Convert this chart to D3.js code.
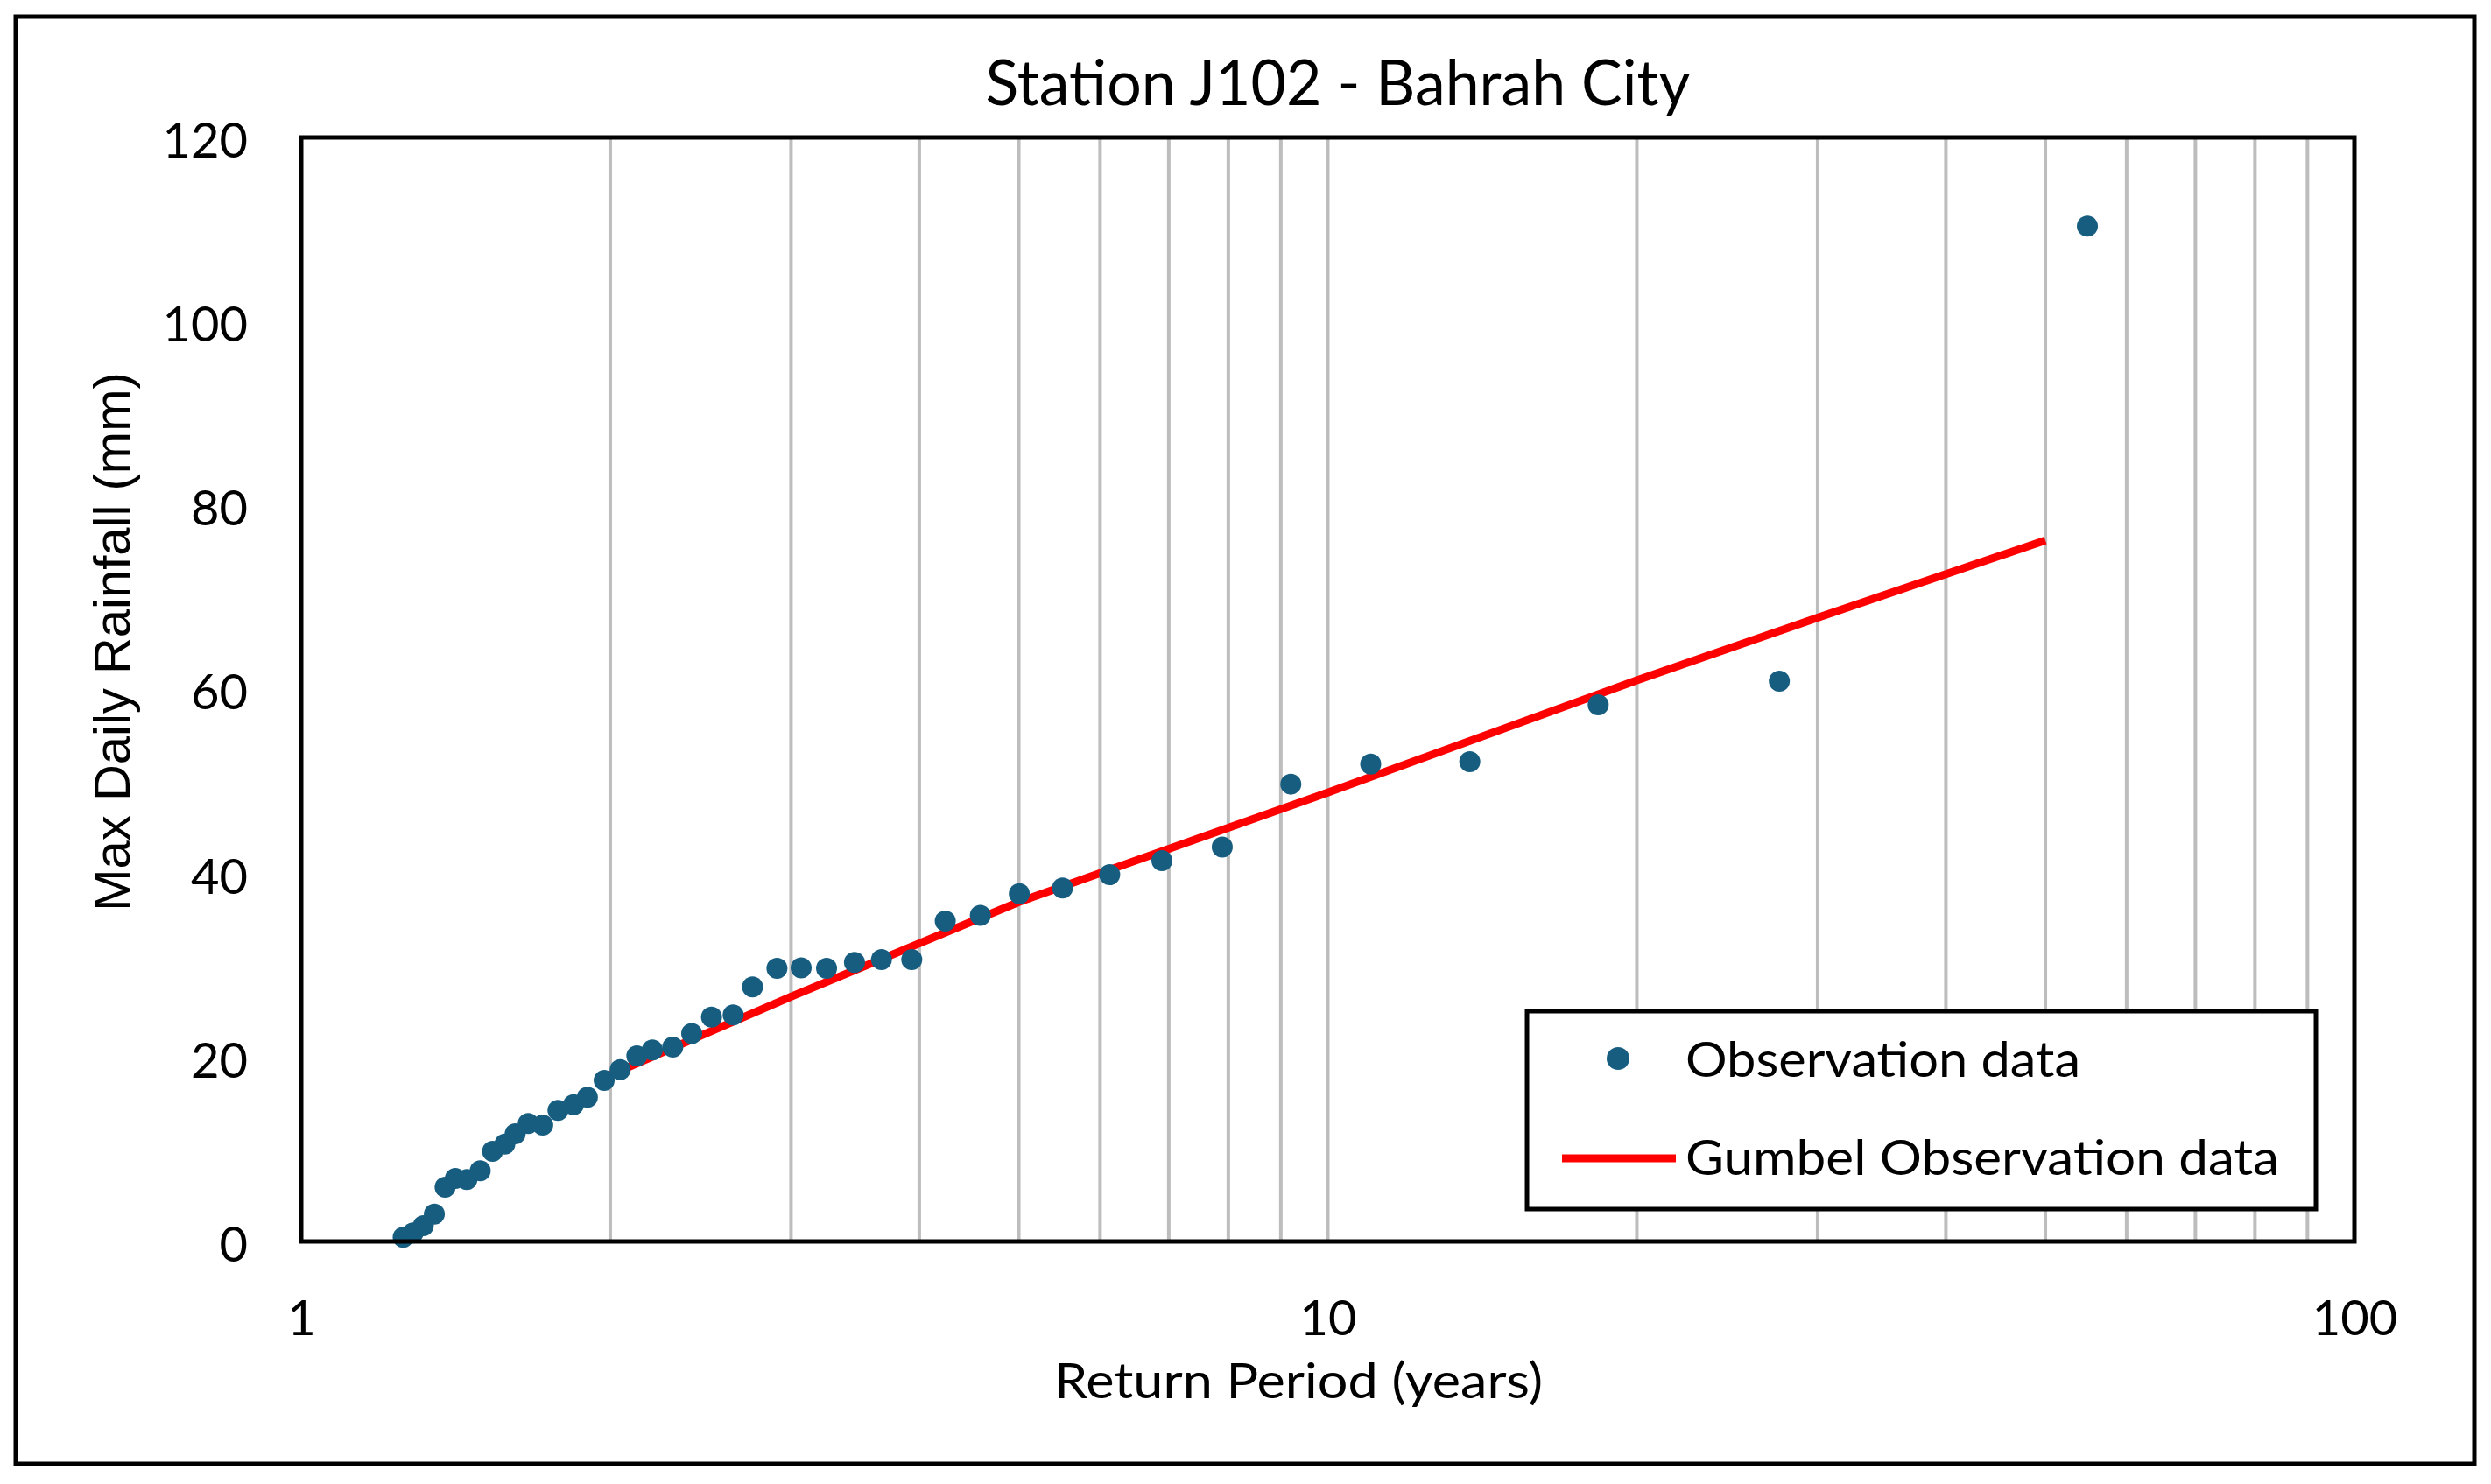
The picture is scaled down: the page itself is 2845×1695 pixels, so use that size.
<!DOCTYPE html>
<html>
<head>
<meta charset="utf-8">
<script src="https://cdn.jsdelivr.net/npm/d3@7"></script>
<style>
    body { margin: 0; background: #ffffff; }
    svg { display: block; }
</style>
</head>
<body>
<script>
var obsPeriod = [1.257, 1.285, 1.315, 1.348, 1.381, 1.413, 1.450, 1.494, 1.536, 1.579,
    1.616, 1.664, 1.719, 1.779, 1.842, 1.900, 1.973, 2.045, 2.123, 2.198,
    2.301, 2.401, 2.510, 2.635, 2.752, 2.907, 3.069, 3.249, 3.459, 3.675,
    3.933, 4.240, 4.587, 5.006, 5.516, 6.131, 6.893, 7.892, 9.204, 11.01,
    13.75, 18.34, 27.53, 54.94];
var obsRain = [0.45, 0.92, 1.71, 2.98, 5.90, 6.85, 6.73, 7.68, 9.80, 10.59,
    11.71, 12.82, 12.66, 14.25, 14.87, 15.67, 17.51, 18.68, 20.18, 20.81,
    21.13, 22.60, 24.39, 24.63, 27.66, 29.69, 29.74, 29.69, 30.33, 30.64,
    30.64, 34.83, 35.45, 37.80, 38.42, 39.87, 41.40, 42.87, 49.71, 51.89,
    52.15, 58.34, 60.91, 110.36];

// gumbel fit line
var gumbelPeriod = [2, 3, 5, 10, 20, 30, 50];
var gumbelRain = [18.1, 26.6, 36.9, 48.8, 61.0, 67.8, 76.2];

var yTicks = [0, 20, 40, 60, 80, 100, 120];
var xTicks = [1, 10, 100];

var width = 2845,
    height = 1695;
var plot = { left: 344, top: 157, right: 2689, bottom: 1418 };
var calibri = "Lato, 'Open Sans', sans-serif";

var svg = d3.select("body")
    .append("svg")
    .attr("width", width)
    .attr("height", height);

svg.append("rect")
    .attr("x", 18).attr("y", 19)
    .attr("width", 2808).attr("height", 1653)
    .style("fill", "#ffffff")
    .style("stroke", "#000000")
    .style("stroke-width", 5);

var x = d3.scaleLog().domain([1, 100]).range([plot.left, plot.right]);
var y = d3.scaleLinear().domain([0, 120]).range([plot.bottom, plot.top]);

// vertical gridlines on every log step
svg.append("g")
    .selectAll("line")
    .data(x.ticks().filter(function (d) { return d > 1 && d < 100; }))
    .enter()
    .append("line")
    .attr("x1", function (d) { return x(d); })
    .attr("x2", function (d) { return x(d); })
    .attr("y1", plot.top)
    .attr("y2", plot.bottom)
    .style("stroke", "#bdbdbd")
    .style("stroke-width", 4);

var lineData = gumbelPeriod.map(function (d, i) { return [d, gumbelRain[i]]; });
svg.append("path")
    .datum(lineData)
    .attr("d", d3.line()
        .x(function (d) { return x(d[0]); })
        .y(function (d) { return y(d[1]); }))
    .style("fill", "none")
    .style("stroke", "#ff0000")
    .style("stroke-width", 9);

svg.append("g")
    .selectAll("circle")
    .data(obsPeriod)
    .enter()
    .append("circle")
    .attr("cx", function (d) { return x(d); })
    .attr("cy", function (d, i) { return y(obsRain[i]); })
    .attr("r", 12)
    .style("fill", "#175d80");

svg.append("rect")
    .attr("x", plot.left).attr("y", plot.top)
    .attr("width", plot.right - plot.left)
    .attr("height", plot.bottom - plot.top)
    .style("fill", "none")
    .style("stroke", "#000000")
    .style("stroke-width", 5);

// axes
var yAxis = svg.append("g")
    .attr("transform", "translate(" + plot.left + ",0)")
    .call(d3.axisLeft(y).tickValues(yTicks).tickSize(0).tickPadding(61));
yAxis.select(".domain").remove();
yAxis.selectAll("text")
    .attr("dy", "0.4em")
    .style("font-family", calibri)
    .style("font-size", "56px")
    .style("fill", "#000000");

var xAxis = svg.append("g")
    .attr("transform", "translate(0," + plot.bottom + ")")
    .call(d3.axisBottom(x).tickValues(xTicks).tickFormat(d3.format("d")).tickSize(0));
xAxis.select(".domain").remove();
xAxis.selectAll("text")
    .attr("y", 107)
    .attr("dy", null)
    .style("font-family", calibri)
    .style("font-size", "56px")
    .style("fill", "#000000");

svg.append("text")
    .attr("x", 1528).attr("y", 120)
    .attr("text-anchor", "middle")
    .attr("textLength", 805)
    .attr("lengthAdjust", "spacingAndGlyphs")
    .style("font-family", calibri)
    .style("font-size", "72px")
    .text("Station J102 - Bahrah City");

svg.append("text")
    .attr("x", 1483).attr("y", 1597)
    .attr("text-anchor", "middle")
    .attr("textLength", 558)
    .attr("lengthAdjust", "spacingAndGlyphs")
    .style("font-family", calibri)
    .style("font-size", "56px")
    .text("Return Period (years)");

svg.append("text")
    .attr("transform", "translate(148,733) rotate(-90)")
    .attr("text-anchor", "middle")
    .style("font-family", "'Liberation Sans', Arial, sans-serif")
    .style("font-size", "58px")
    .text("Max Daily Rainfall (mm)");

// legend
var legend = svg.append("g");
legend.append("rect")
    .attr("x", 1744).attr("y", 1155)
    .attr("width", 901).attr("height", 226)
    .style("fill", "#ffffff")
    .style("stroke", "#000000")
    .style("stroke-width", 5);
legend.append("circle")
    .attr("cx", 1848).attr("cy", 1209)
    .attr("r", 13)
    .style("fill", "#175d80");
legend.append("text")
    .attr("x", 1925).attr("y", 1230)
    .attr("textLength", 451)
    .attr("lengthAdjust", "spacingAndGlyphs")
    .style("font-family", calibri)
    .style("font-size", "57px")
    .text("Observation data");
legend.append("line")
    .attr("x1", 1784).attr("x2", 1914)
    .attr("y1", 1323).attr("y2", 1323)
    .style("stroke", "#ff0000")
    .style("stroke-width", 9);
legend.append("text")
    .attr("x", 1925).attr("y", 1342)
    .attr("textLength", 678)
    .attr("lengthAdjust", "spacingAndGlyphs")
    .style("font-family", calibri)
    .style("font-size", "57px")
    .text("Gumbel Observation data");
</script>
</body>
</html>
